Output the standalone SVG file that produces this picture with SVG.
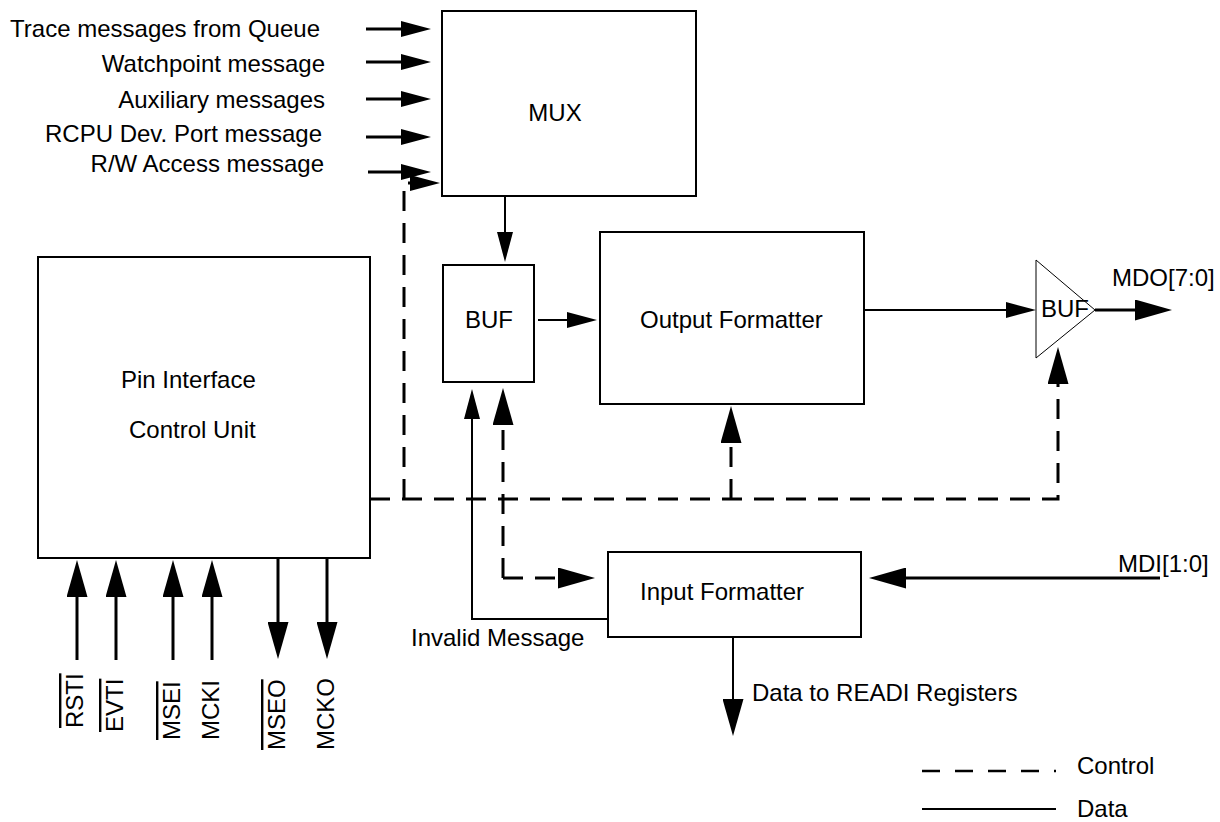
<svg xmlns="http://www.w3.org/2000/svg" width="1220" height="822" viewBox="0 0 1220 822">
<style>
text{font-family:"Liberation Sans",Arial,sans-serif;font-size:24px;fill:#000}
.box{fill:#fff;stroke:#000;stroke-width:2}
.d{fill:none;stroke:#000;stroke-width:2}
.t{fill:none;stroke:#000;stroke-width:3}
.c{fill:none;stroke:#000;stroke-width:3;stroke-dasharray:20 12}
.m{text-anchor:middle}
.e{text-anchor:end}
</style>
<defs>
<marker id="am" markerUnits="userSpaceOnUse" markerWidth="30" markerHeight="16" refX="2" refY="8" orient="auto"><path d="M0,0L30,8L0,16z" fill="#000"/></marker>
<marker id="ab" markerUnits="userSpaceOnUse" markerWidth="37" markerHeight="21" refX="2" refY="10.5" orient="auto"><path d="M0,0L37,10.5L0,21z" fill="#000"/></marker>
</defs>
<rect width="1220" height="822" fill="#fff"/>
<g id="connectors">
<path class="t" d="M366,29H403" marker-end="url(#am)"/>
<path class="t" d="M366,62H403" marker-end="url(#am)"/>
<path class="t" d="M366,99H403" marker-end="url(#am)"/>
<path class="t" d="M366,137H403" marker-end="url(#am)"/>
<path class="t" d="M368,172H403" marker-end="url(#am)"/>
<path class="c" d="M404,499V183H412" marker-end="url(#am)"/>
<path class="c" d="M370,499H1058V382" marker-end="url(#ab)"/>
<path class="c" d="M731,499V441" marker-end="url(#ab)"/>
<path class="c" d="M503,578V423" marker-end="url(#ab)"/>
<path class="c" d="M503,578H560" marker-end="url(#ab)"/>
<path class="d" d="M505,196V234" marker-end="url(#am)"/>
<path class="d" d="M538,320H569" marker-end="url(#am)"/>
<path class="d" d="M864,310H1008" marker-end="url(#am)"/>
<path class="t" d="M1095,310H1137" marker-end="url(#ab)"/>
<path class="t" d="M1160,578H904" marker-end="url(#ab)"/>
<path class="d" d="M608,619H472V417" marker-end="url(#am)"/>
<path class="d" d="M733,637V701" marker-end="url(#ab)"/>
<path class="t" d="M77,660V595" marker-end="url(#ab)"/>
<path class="t" d="M116,660V595" marker-end="url(#ab)"/>
<path class="t" d="M173,660V595" marker-end="url(#ab)"/>
<path class="t" d="M212,660V595" marker-end="url(#ab)"/>
<path class="t" d="M278,558V624" marker-end="url(#ab)"/>
<path class="t" d="M327,558V624" marker-end="url(#ab)"/>
</g>
<g id="inputs">
<text class="e" x="320" y="37">Trace messages from Queue</text>
<text class="e" x="325" y="72">Watchpoint message</text>
<text class="e" x="325" y="108">Auxiliary messages</text>
<text class="e" x="322" y="142">RCPU Dev. Port message</text>
<text class="e" x="324" y="172">R/W Access message</text>
</g>
<g id="mux"><rect class="box" x="442" y="11" width="254" height="185"/><text class="m" x="555" y="121">MUX</text></g>
<g id="buf"><rect class="box" x="443" y="265" width="91" height="117"/><text class="m" x="489" y="328">BUF</text></g>
<g id="output-formatter"><rect class="box" x="600" y="232" width="264" height="172"/><text x="640" y="328">Output Formatter</text></g>
<g id="pin-interface"><rect class="box" x="38" y="257" width="332" height="301"/><text x="121" y="388">Pin Interface</text><text x="129" y="438">Control Unit</text></g>
<g id="input-formatter"><rect class="box" x="608" y="552" width="253" height="85"/><text x="640" y="600">Input Formatter</text></g>
<g id="out-buf"><polygon points="1036,260 1095,310 1036,358" fill="#fff" stroke="#000" stroke-width="1"/><text x="1041" y="317">BUF</text></g>
<g id="labels">
<text x="1112" y="286">MDO[7:0]</text>
<text x="1118" y="572">MDI[1:0]</text>
<text x="411" y="646">Invalid Message</text>
<text x="752" y="701">Data to READI Registers</text>
</g>
<g id="pins">
<text transform="translate(83,728) rotate(-90)" text-decoration="overline">RSTI</text>
<text transform="translate(123,732) rotate(-90)" text-decoration="overline">EVTI</text>
<text transform="translate(180,740) rotate(-90)" text-decoration="overline">MSEI</text>
<text transform="translate(219,740) rotate(-90)">MCKI</text>
<text transform="translate(285,750) rotate(-90)" text-decoration="overline">MSEO</text>
<text transform="translate(334,750) rotate(-90)">MCKO</text>
</g>
<g id="legend">
<path d="M922,771H1056" fill="none" stroke="#000" stroke-width="2.5" stroke-dasharray="18 15"/>
<path d="M922,809H1056" fill="none" stroke="#000" stroke-width="2"/>
<text x="1077" y="774">Control</text>
<text x="1077" y="817">Data</text>
</g>
</svg>
